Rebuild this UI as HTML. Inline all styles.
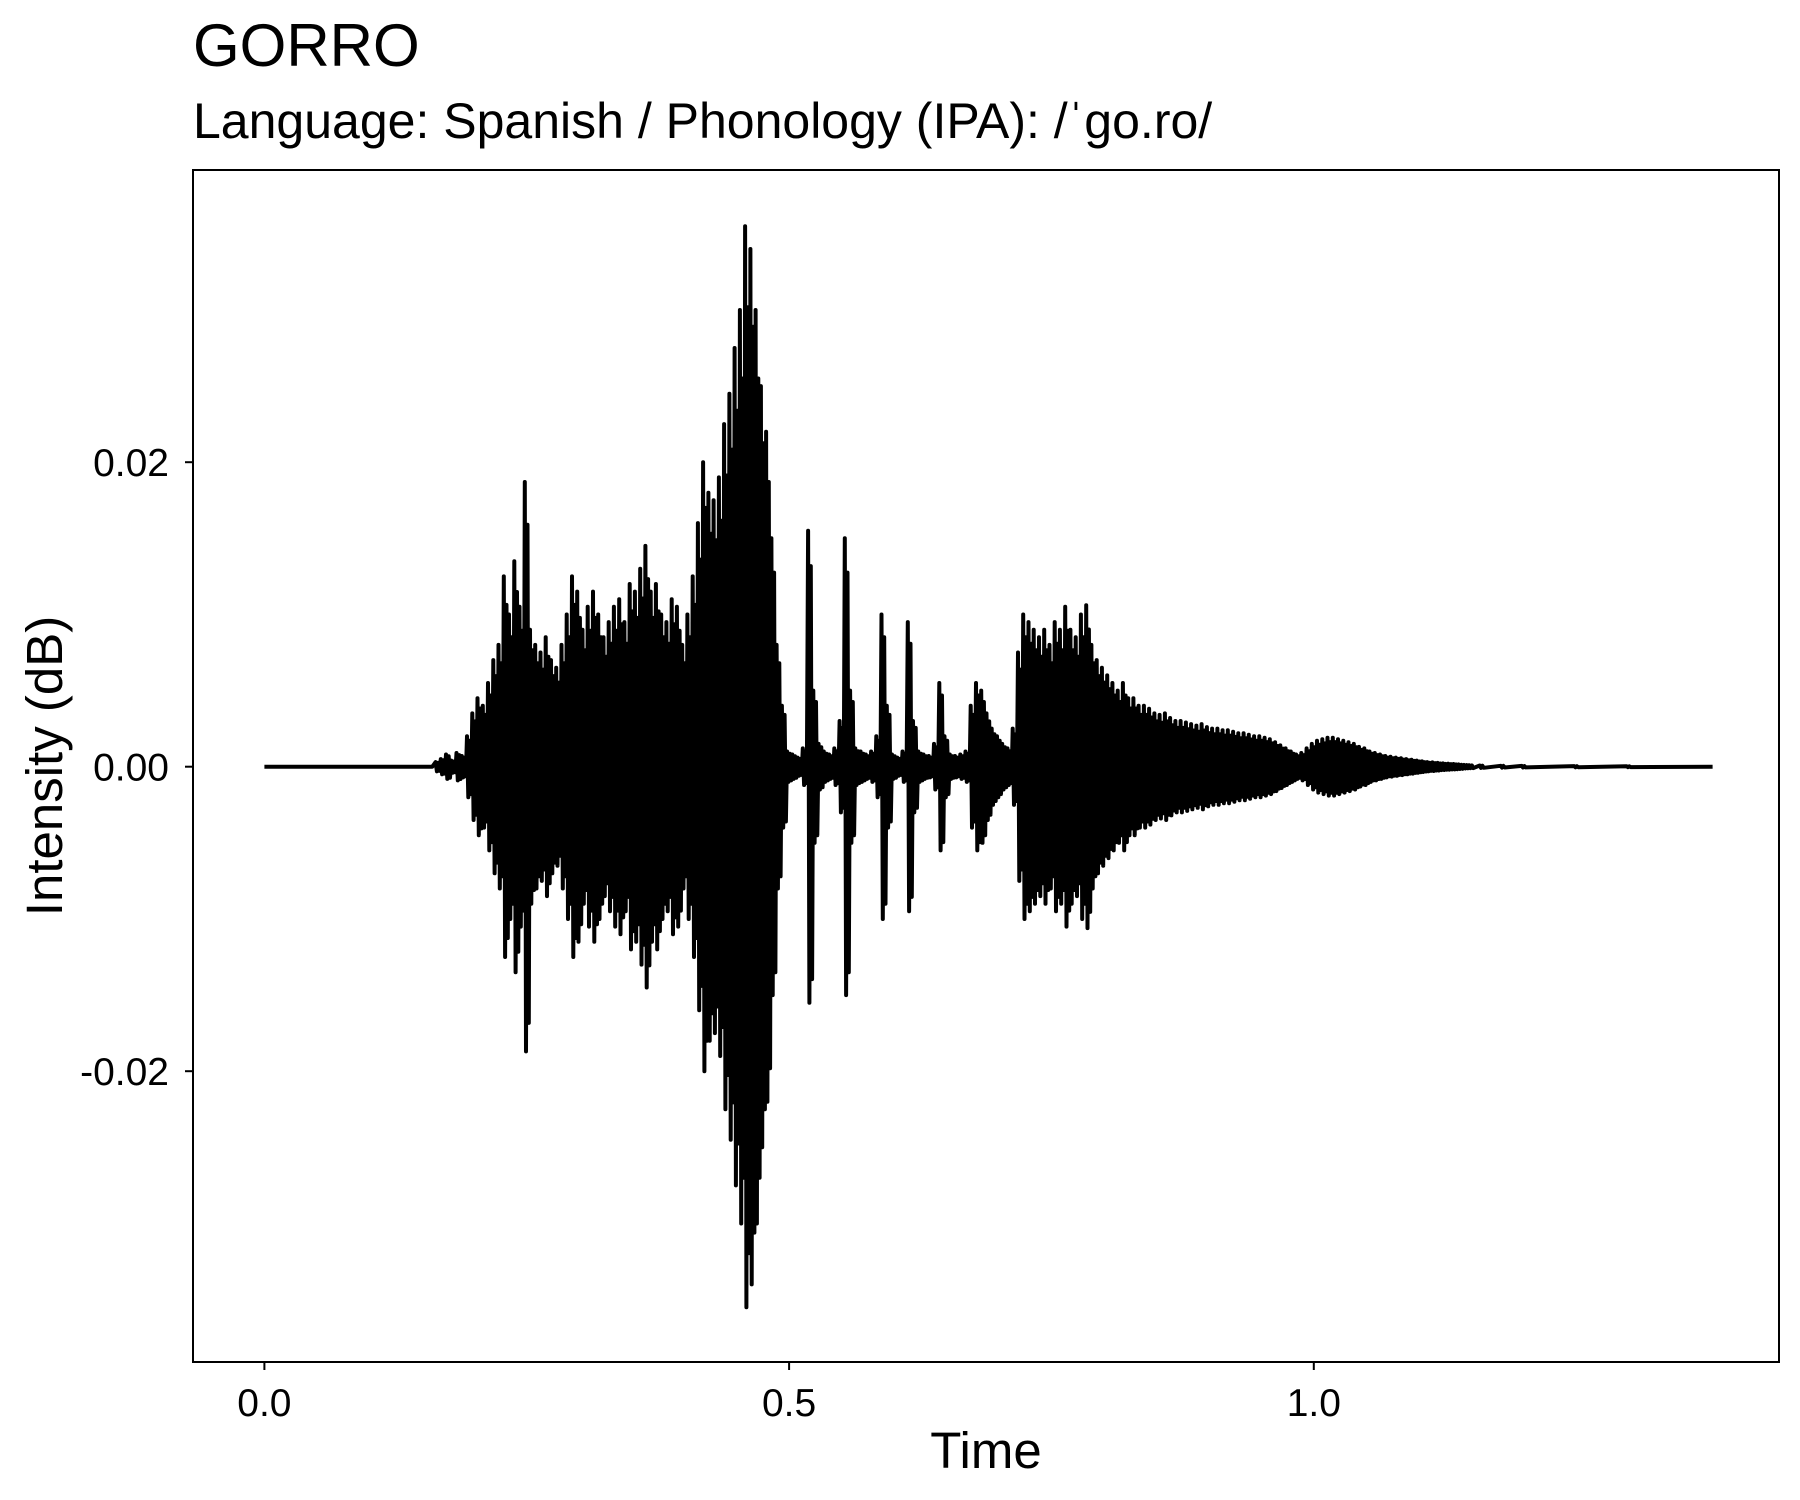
<!DOCTYPE html>
<html><head><meta charset="utf-8"><style>
html,body{margin:0;padding:0;background:#fff;}
svg{display:block;font-family:"Liberation Sans",Arial,sans-serif;}
</style></head><body>
<svg id="chart" width="1800" height="1500" viewBox="0 0 1800 1500" xmlns="http://www.w3.org/2000/svg">
<rect width="1800" height="1500" fill="#fff"/>
<text x="193" y="66" font-size="60" fill="#000">GORRO</text>
<text x="193" y="138" font-size="50" fill="#000">Language: Spanish / Phonology (IPA): /ˈgo.ro/</text>
<g id="plot"></g>
<rect x="193" y="170" width="1586" height="1192" fill="none" stroke="#000" stroke-width="2"/>
<text x="986" y="1468" font-size="51" text-anchor="middle" fill="#000">Time</text>
<text x="0" y="0" font-size="51" text-anchor="middle" fill="#000" transform="translate(62,766) rotate(-90)">Intensity (dB)</text>
</svg>
<script>
const xTickValues=[0,0.5,1.0];
const xTickLabels=["0.0","0.5","1.0"];
const yTickValues=[0.02,0,-0.02];
const yTickLabels=["0.02","0.00","-0.02"];
// time (s) and amplitude (x0.001) of waveform envelope
const times=[0,0.16,
0.165,0.17,0.175,0.18,0.185,0.19,
0.195,0.2,0.205,0.21,0.215,0.22,
0.225,0.23,0.235,0.24,0.245,0.25,
0.255,0.26,0.265,0.27,0.275,0.28,0.285,
0.29,0.295,0.3,0.305,0.31,0.315,0.32,0.325,0.33,0.335,0.34,
0.345,0.35,0.355,0.36,0.365,0.37,0.375,0.38,0.385,0.39,0.395,
0.4,0.405,0.41,0.415,0.42,0.425,0.43,0.435,
0.44,0.445,0.45,0.455,0.46,0.465,0.47,
0.475,0.48,0.485,0.49,0.495,
0.5,0.505,0.51,0.515,0.52,
0.525,0.53,0.535,0.54,0.545,0.55,0.555,
0.56,0.565,0.57,0.575,0.58,0.585,0.59,0.595,
0.6,0.605,0.61,0.615,0.62,0.625,0.63,0.635,0.64,
0.645,0.65,0.655,0.66,0.665,0.67,
0.675,0.68,0.685,0.69,0.695,0.7,0.705,0.71,0.715,0.72,
0.725,0.73,0.735,0.74,0.745,0.75,0.755,0.76,0.765,0.77,0.775,0.78,0.785,0.79,0.795,0.8,
0.805,0.81,0.815,0.82,0.825,0.83,0.835,0.84,0.845,
0.85,0.855,0.86,0.865,0.87,0.875,0.88,0.885,0.89,0.895,0.9,0.905,0.91,0.915,0.92,0.925,0.93,0.935,0.94,0.945,0.95,0.955,0.96,0.965,0.97,0.975,
0.98,0.985,0.99,
0.995,1.0,1.005,1.01,1.015,1.02,1.025,1.03,1.035,1.04,1.045,1.05,1.055,1.06,
1.065,1.07,1.075,1.08,1.085,1.09,1.095,1.1,1.105,1.11,1.115,1.12,1.125,1.13,1.135,1.14,1.145,1.15,
1.16,1.18,1.2,1.25,1.3,1.38];
const amps=[0,0,
0.3,0.5,0.8,0.4,0.9,0.7,
2,3.5,4.5,4,5.5,7,
8,12.5,10,13.5,10.5,18.7,
9,8,7.5,8.5,7,6.5,8,
10,12.5,11.5,9,10.5,11.5,10,8.5,9.5,10.5,11,
9.5,12,11.5,13,14.5,11.5,12,10,9.5,11,10.5,
8,10,12.5,16,20,18,17.5,19,
22.5,24.5,27.5,30,35.5,34,30,
25,22,15,8,4,
1,0.8,0.6,1.2,15.5,
5,1.5,1,0.8,1.2,3,15,
5,1.2,1,0.8,1,2,10,4,
0.8,0.6,1,9.5,3,1,0.8,0.7,1.5,
5.5,2,0.8,0.7,0.8,1,
4,5.5,5,3.5,2.5,2,1.5,1.2,2.5,7.5,
10,9.5,9,8.5,9,8,9.5,9,10.5,9,8.5,10,10.6,8,7,6.5,
6,5.5,5,5.5,4.5,4.5,4,4,3.8,
3.5,3.4,3.5,3.2,3,3,2.9,2.8,2.7,2.8,2.6,2.5,2.5,2.4,2.4,2.3,2.2,2.2,2.1,2,2,1.9,1.8,1.6,1.4,1.2,
1,0.8,0.9,
1.2,1.5,1.7,1.8,1.9,1.9,1.8,1.7,1.6,1.5,1.3,1.2,1,0.9,
0.8,0.7,0.65,0.6,0.55,0.5,0.45,0.4,0.35,0.3,0.28,0.25,0.22,0.2,0.18,0.15,0.12,0.1,
0.08,0.06,0.05,0.04,0.03,0];

const NS="http://www.w3.org/2000/svg";
const X0=193,X1=1779,Y0=170,Y1=1362;
function xScale(t){return 264.4+t*1049.4;}
function yScale(v){return 766.7-v*15225;}
const g=document.getElementById('plot');

// waveform zigzag (two oscillations per envelope sample)
let pts=[];
for(let i=0;i<times.length;i++){
  const a=amps[i]/1000;
  const x=xScale(times[i]);
  if(a===0){pts.push(x.toFixed(1)+','+yScale(0).toFixed(1));continue;}
  pts.push((x-2).toFixed(1)+','+yScale(a).toFixed(1));
  pts.push((x-0.7).toFixed(1)+','+yScale(-a).toFixed(1));
  pts.push((x+0.7).toFixed(1)+','+yScale(a*0.85).toFixed(1));
  pts.push((x+2).toFixed(1)+','+yScale(-a*0.9).toFixed(1));
}
const wave=document.createElementNS(NS,'polyline');


wave.setAttribute('points',pts.join(' '));
wave.setAttribute('fill','none');
wave.setAttribute('stroke','#000');
wave.setAttribute('stroke-width','4');
wave.setAttribute('stroke-linejoin','round');
g.appendChild(wave);

xTickValues.forEach((v,i)=>{
  const x=xScale(v);
  const t=document.createElementNS(NS,'line');
  
  
  t.setAttribute('x1',x);t.setAttribute('x2',x);t.setAttribute('y1',Y1);t.setAttribute('y2',Y1+8);
  t.setAttribute('stroke','#000');t.setAttribute('stroke-width','2');
  g.appendChild(t);
  const l=document.createElementNS(NS,'text');
  
  
  l.setAttribute('x',x);l.setAttribute('y',1416);
  l.setAttribute('font-size','39');l.setAttribute('text-anchor','middle');
  l.textContent=xTickLabels[i];
  g.appendChild(l);
});
yTickValues.forEach((v,i)=>{
  const y=yScale(v);
  const t=document.createElementNS(NS,'line');
  
  
  t.setAttribute('x1',X0-8);t.setAttribute('x2',X0);t.setAttribute('y1',y);t.setAttribute('y2',y);
  t.setAttribute('stroke','#000');t.setAttribute('stroke-width','2');
  g.appendChild(t);
  const l=document.createElementNS(NS,'text');
  
  
  l.setAttribute('x',169);l.setAttribute('y',y+14);
  l.setAttribute('font-size','39');l.setAttribute('text-anchor','end');
  l.textContent=yTickLabels[i];
  g.appendChild(l);
});
</script>
</body></html>
